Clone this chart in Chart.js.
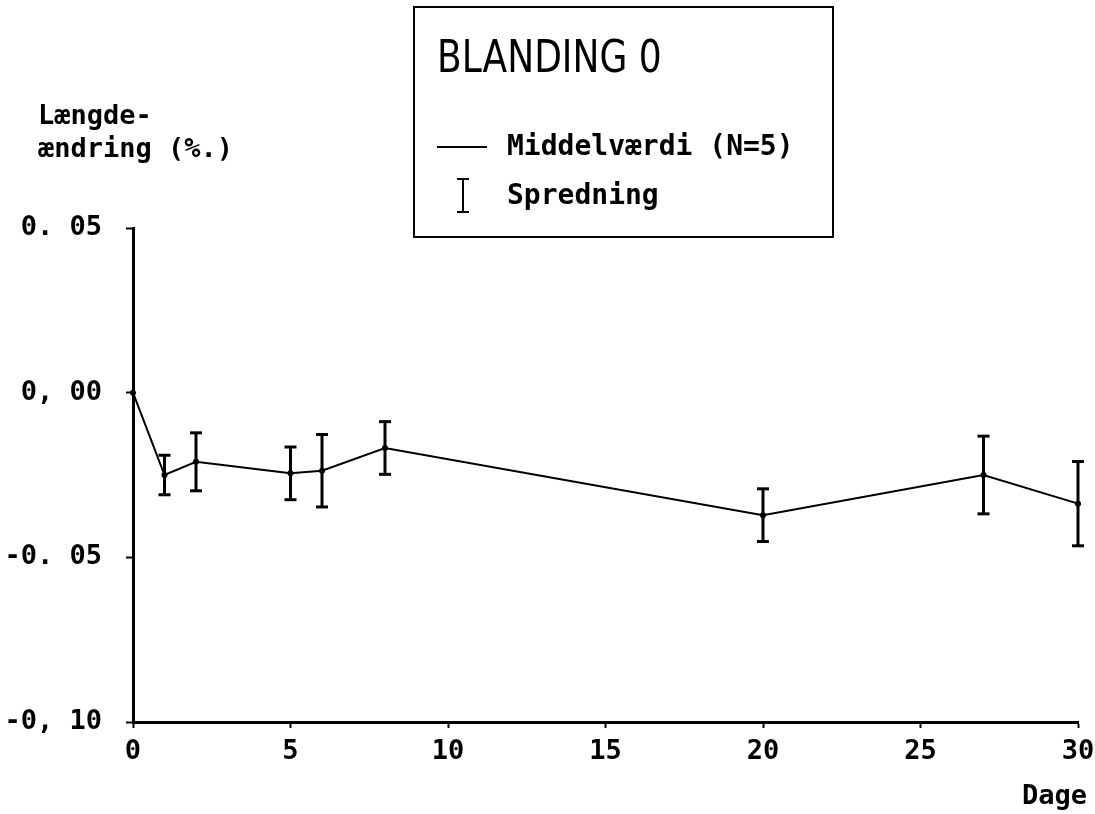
<!DOCTYPE html>
<html>
<head>
<meta charset="utf-8">
<script src="https://cdn.jsdelivr.net/npm/chart.js@4.4.1/dist/chart.umd.min.js"></script>
<style>
  body { margin: 0; background: #fff; }
  #wrap { width: 1095px; height: 814px; position: relative; }
</style>
</head>
<body>
<div id="wrap"><canvas id="lengthChart"></canvas></div>
<script>
// Blanding 0 - length change over days
const days = [0, 1, 2, 5, 6, 8, 20, 27, 30];
const meanValues = [0, -0.025, -0.021, -0.0245, -0.0237, -0.0168, -0.0372, -0.025, -0.0337];
const spread = [0, 0.006, 0.0088, 0.008, 0.011, 0.008, 0.008, 0.0118, 0.0128];
const yTickLabels = ['-0, 10', '-0. 05', '0, 00', '0. 05'];

const tickFont = { family: '"DejaVu Sans Mono"', size: 27, weight: 'bold' };

const meanData = days.map((d, i) => ({ x: d, y: meanValues[i] }));

// each spread bar is two points followed by a gap
const spreadData = [];
days.forEach((d, i) => {
  if (spread[i] > 0) {
    spreadData.push({ x: d, y: meanValues[i] + spread[i] });
    spreadData.push({ x: d, y: meanValues[i] - spread[i] });
    spreadData.push({ x: d, y: null });
  }
});

const labelsPlugin = {
  id: 'labels',
  afterDraw(chart) {
    const c = chart.ctx;
    c.save();
    c.fillStyle = '#000';
    c.strokeStyle = '#000';

    // legend box
    c.lineWidth = 2;
    c.strokeRect(414, 7, 419, 230);

    c.save();
    c.translate(437, 60);
    c.scale(0.8, 1);
    c.font = '45px "DejaVu Sans"';
    c.textBaseline = 'middle';
    c.fillText('BLANDING 0', 0, 0);
    c.restore();

    c.lineWidth = 2;
    c.beginPath();
    c.moveTo(437, 147);
    c.lineTo(487, 147);
    c.moveTo(463, 179);
    c.lineTo(463, 212);
    c.moveTo(457, 179);
    c.lineTo(469, 179);
    c.moveTo(457, 212);
    c.lineTo(469, 212);
    c.stroke();

    c.font = 'bold 28px "DejaVu Sans Mono"';
    c.textBaseline = 'middle';
    c.fillText('Middelværdi (N=5)', 507, 148);
    c.fillText('Spredning', 507, 197);

    // axis titles
    c.font = 'bold 27px "DejaVu Sans Mono"';
    c.fillText('Længde-', 38, 117);
    c.fillText('ændring (%.)', 38, 150);
    c.textAlign = 'right';
    c.fillText('Dage', 1087, 797);
    c.restore();
  }
};

const ctx = document.getElementById('lengthChart').getContext('2d');
const lengthChart = new Chart(ctx, {
  type: 'line',
  data: {
    datasets: [
      {
        label: 'Middelværdi (N=5)',
        data: meanData,
        borderColor: '#000',
        backgroundColor: '#000',
        borderWidth: 2,
        pointRadius: 2,
        tension: 0,
        clip: 12
      },
      {
        label: 'Spredning',
        data: spreadData,
        borderColor: '#000',
        backgroundColor: '#000',
        borderWidth: 3,
        spanGaps: false,
        pointStyle: 'line',
        pointRadius: 6,
        pointBorderWidth: 3,
        clip: 12
      }
    ]
  },
  options: {
    responsive: true,
    maintainAspectRatio: false,
    animation: false,
    layout: { padding: { top: 228, right: 17, left: 0, bottom: 0 } },
    plugins: {
      legend: { display: false },
      tooltip: { enabled: false }
    },
    scales: {
      x: {
        type: 'linear',
        min: 0,
        max: 30,
        afterFit: (scale) => {
          scale.height = 92;
          scale.paddingLeft = 0;
          scale.paddingRight = 0;
        },
        border: { color: '#000', width: 3 },
        grid: { drawOnChartArea: false, color: '#000', tickLength: 6, tickWidth: 2 },
        ticks: { stepSize: 5, color: '#000', font: tickFont, padding: 8 }
      },
      y: {
        min: -0.1,
        max: 0.05,
        afterFit: (scale) => { scale.width = 133; },
        border: { color: '#000', width: 3 },
        grid: { drawOnChartArea: false, color: '#000', tickLength: 7, tickWidth: 2 },
        ticks: {
          stepSize: 0.05,
          color: '#000',
          font: tickFont,
          padding: 24,
          callback: (value, index) => yTickLabels[index]
        }
      }
    }
  },
  plugins: [labelsPlugin]
});
</script>
</body>
</html>
